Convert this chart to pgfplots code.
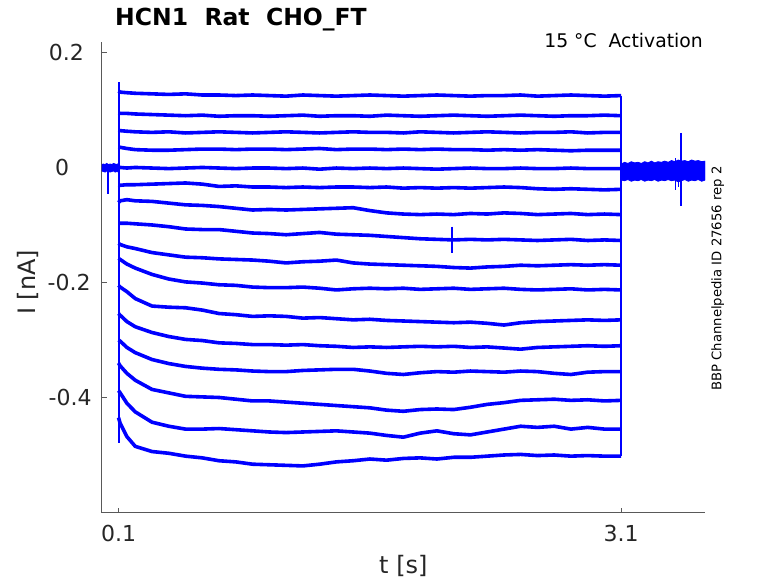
\documentclass[border=0pt]{standalone}
\usepackage{pgfplots}
\pgfplotsset{compat=1.18}
\usepackage{fontspec}
\setmainfont{DejaVu Sans}
\definecolor{trace}{RGB}{0,0,255}
\definecolor{axc}{RGB}{38,38,38}
\begin{document}
\begin{tikzpicture}
\useasboundingbox (0,0) rectangle (778pt,583pt);
\begin{axis}[
  at={(101.75pt,70.5pt)}, anchor=south west,
  scale only axis, width=603.25pt, height=470pt,
  xmin=0, xmax=3.6, ymin=-0.6, ymax=0.2173,
  axis lines*=left,
  axis line style={color=black!65, line width=0.7pt},
  tick style={color=black!65, line width=0.7pt},
  tick align=inside, major tick length=5pt,
  xtick={0.1,3.1}, xticklabels={0.1,3.1},
  ytick={-0.4,-0.2,0,0.2},
  yticklabels={-0.4,{-0.2\hspace*{1pt}},{0\hspace*{22.4pt}},{0.2\hspace*{7.7pt}}},
  ticklabel style={font=\fontsize{22}{26}\selectfont, text=axc, inner sep=0pt},
  xticklabel style={anchor=north, yshift=-12.5pt},
  yticklabel style={anchor=east, xshift=-10pt},
  xlabel={t [s]}, ylabel={I [nA]},
  label style={font=\fontsize{24}{28}\selectfont, text=axc, inner sep=0pt},
  xlabel style={at={(axis description cs:0.5,0)}, anchor=base, yshift=-61.3pt},
  ylabel style={at={(axis description cs:-0.1097,0.49)}, anchor=base},
  sweep/.style={color=trace, line width=3.6pt, line join=round, mark=none},
  jump/.style={color=trace, line width=2pt, mark=none},
]
% pre-pulse baseline band
\addplot[trace, fill=trace, line width=0.8pt] coordinates {(0,0.005) (0.01,0.006) (0.02,0.005) (0.03,0.007) (0.04,0.005) (0.05,0.006) (0.06,0.005) (0.07,0.007) (0.08,0.006) (0.09,0.005) (0.1,0.007) (0.1,-0.008) (0.09,-0.007) (0.08,-0.008) (0.07,-0.006) (0.06,-0.007) (0.05,-0.008) (0.04,-0.007) (0.03,-0.006) (0.02,-0.008) (0.01,-0.007) (0,-0.006)} -- cycle;
\addplot[trace, line width=2.2pt] coordinates {(0.038,0) (0.038,-0.046)};
% post-pulse baseline band
\addplot[trace, fill=trace, line width=0.8pt] coordinates {(3.1,0.006) (3.12,0.009) (3.14,0.007) (3.16,0.010) (3.18,0.008) (3.2,0.009) (3.22,0.007) (3.24,0.010) (3.26,0.008) (3.28,0.011) (3.3,0.008) (3.32,0.010) (3.34,0.009) (3.36,0.011) (3.38,0.009) (3.4,0.012) (3.42,0.010) (3.44,0.013) (3.46,0.011) (3.48,0.012) (3.5,0.010) (3.52,0.013) (3.54,0.011) (3.56,0.012) (3.58,0.010) (3.6,0.011) (3.6,-0.022) (3.58,-0.024) (3.56,-0.021) (3.54,-0.023) (3.52,-0.022) (3.5,-0.024) (3.48,-0.021) (3.46,-0.023) (3.44,-0.025) (3.42,-0.022) (3.4,-0.023) (3.38,-0.021) (3.36,-0.023) (3.34,-0.022) (3.32,-0.024) (3.3,-0.021) (3.28,-0.023) (3.26,-0.022) (3.24,-0.024) (3.22,-0.021) (3.2,-0.023) (3.18,-0.022) (3.16,-0.024) (3.14,-0.021) (3.12,-0.023) (3.1,-0.022)} -- cycle;
\addplot[trace, line width=1.1pt] coordinates {(3.457,0.060) (3.457,-0.067)};
\addplot[trace, line width=1.1pt] coordinates {(3.422,0.016) (3.422,-0.039)};
\addplot[trace, line width=1.1pt] coordinates {(3.44,0) (3.44,-0.034)};
% voltage-step onsets and offsets (jumps of all sweeps)
\addplot[jump] coordinates {(0.1,0.148) (0.1,-0.480)};
\addplot[jump] coordinates {(3.1,0.125) (3.1,-0.502)};
% sweeps
\addplot[sweep] coordinates {(0.1,0.133) (0.11,0.131) (0.15,0.130) (0.2,0.129) (0.3,0.128) (0.4,0.127) (0.5,0.128) (0.6,0.126) (0.7,0.126) (0.8,0.125) (0.9,0.126) (1.0,0.125) (1.1,0.124) (1.2,0.126) (1.3,0.125) (1.4,0.124) (1.5,0.125) (1.6,0.126) (1.7,0.125) (1.8,0.124) (1.9,0.125) (2.0,0.126) (2.1,0.125) (2.2,0.124) (2.3,0.125) (2.4,0.125) (2.5,0.126) (2.6,0.124) (2.7,0.125) (2.8,0.126) (2.9,0.125) (3.0,0.124) (3.1,0.125)};
\addplot[sweep] coordinates {(0.1,0.095) (0.11,0.094) (0.15,0.094) (0.2,0.093) (0.3,0.092) (0.4,0.091) (0.5,0.090) (0.6,0.091) (0.7,0.089) (0.8,0.090) (0.9,0.090) (1.0,0.089) (1.1,0.090) (1.2,0.091) (1.3,0.089) (1.4,0.090) (1.5,0.090) (1.6,0.089) (1.7,0.091) (1.8,0.090) (1.9,0.089) (2.0,0.090) (2.1,0.091) (2.2,0.090) (2.3,0.089) (2.4,0.090) (2.5,0.091) (2.6,0.090) (2.7,0.089) (2.8,0.090) (2.9,0.090) (3.0,0.091) (3.1,0.090)};
\addplot[sweep] coordinates {(0.1,0.065) (0.11,0.064) (0.15,0.063) (0.2,0.062) (0.3,0.061) (0.4,0.062) (0.5,0.060) (0.6,0.061) (0.7,0.062) (0.8,0.061) (0.9,0.060) (1.0,0.061) (1.1,0.062) (1.2,0.061) (1.3,0.060) (1.4,0.061) (1.5,0.062) (1.6,0.061) (1.7,0.061) (1.8,0.060) (1.9,0.062) (2.0,0.061) (2.1,0.060) (2.2,0.061) (2.3,0.062) (2.4,0.061) (2.5,0.060) (2.6,0.061) (2.7,0.061) (2.8,0.062) (2.9,0.060) (3.0,0.061) (3.1,0.061)};
\addplot[sweep] coordinates {(0.1,0.036) (0.11,0.035) (0.15,0.033) (0.2,0.031) (0.3,0.030) (0.4,0.030) (0.5,0.031) (0.6,0.032) (0.7,0.032) (0.8,0.031) (0.9,0.032) (1.0,0.032) (1.1,0.031) (1.2,0.032) (1.3,0.033) (1.4,0.031) (1.5,0.032) (1.6,0.032) (1.7,0.031) (1.8,0.032) (1.9,0.031) (2.0,0.032) (2.1,0.031) (2.2,0.031) (2.3,0.030) (2.4,0.031) (2.5,0.030) (2.6,0.031) (2.7,0.030) (2.8,0.029) (2.9,0.030) (3.0,0.030) (3.1,0.030)};
\addplot[sweep] coordinates {(0.1,0.000) (0.11,0.000) (0.15,-0.001) (0.2,0.000) (0.3,-0.001) (0.4,-0.002) (0.5,-0.001) (0.6,0.000) (0.7,-0.001) (0.8,-0.002) (0.9,-0.001) (1.0,-0.001) (1.1,-0.002) (1.2,-0.001) (1.3,-0.003) (1.4,-0.001) (1.5,-0.002) (1.6,-0.001) (1.7,-0.002) (1.8,-0.001) (1.9,-0.002) (2.0,-0.003) (2.1,-0.002) (2.2,-0.001) (2.3,-0.002) (2.4,-0.002) (2.5,-0.001) (2.6,-0.002) (2.7,-0.002) (2.8,-0.001) (2.9,-0.002) (3.0,-0.002) (3.1,-0.002)};
\addplot[sweep] coordinates {(0.1,-0.030) (0.11,-0.031) (0.15,-0.030) (0.2,-0.030) (0.3,-0.029) (0.4,-0.028) (0.5,-0.027) (0.6,-0.029) (0.7,-0.033) (0.8,-0.032) (0.9,-0.034) (1.0,-0.034) (1.1,-0.035) (1.2,-0.034) (1.3,-0.035) (1.4,-0.034) (1.5,-0.034) (1.6,-0.035) (1.7,-0.034) (1.8,-0.036) (1.9,-0.035) (2.0,-0.036) (2.1,-0.035) (2.2,-0.036) (2.3,-0.035) (2.4,-0.034) (2.5,-0.035) (2.6,-0.037) (2.7,-0.038) (2.8,-0.037) (2.9,-0.038) (3.0,-0.039) (3.1,-0.038)};
\addplot[sweep] coordinates {(0.1,-0.061) (0.11,-0.058) (0.15,-0.056) (0.2,-0.058) (0.3,-0.059) (0.4,-0.062) (0.5,-0.065) (0.6,-0.066) (0.7,-0.068) (0.8,-0.071) (0.9,-0.074) (1.0,-0.073) (1.1,-0.074) (1.2,-0.073) (1.3,-0.072) (1.4,-0.071) (1.5,-0.070) (1.6,-0.075) (1.7,-0.079) (1.8,-0.081) (1.9,-0.082) (2.0,-0.081) (2.1,-0.082) (2.2,-0.080) (2.3,-0.081) (2.4,-0.079) (2.5,-0.080) (2.6,-0.082) (2.7,-0.081) (2.8,-0.080) (2.9,-0.082) (3.0,-0.081) (3.1,-0.082)};
\addplot[sweep] coordinates {(0.1,-0.097) (0.11,-0.097) (0.15,-0.097) (0.2,-0.098) (0.3,-0.100) (0.4,-0.103) (0.5,-0.107) (0.6,-0.108) (0.7,-0.108) (0.8,-0.111) (0.9,-0.114) (1.0,-0.115) (1.1,-0.117) (1.2,-0.115) (1.3,-0.113) (1.4,-0.116) (1.5,-0.117) (1.6,-0.118) (1.7,-0.120) (1.8,-0.122) (1.9,-0.124) (2.0,-0.125) (2.1,-0.126) (2.2,-0.125) (2.3,-0.126) (2.4,-0.125) (2.5,-0.126) (2.6,-0.127) (2.7,-0.126) (2.8,-0.125) (2.9,-0.127) (3.0,-0.126) (3.1,-0.127)};
\addplot[trace, line width=1.6pt] coordinates {(2.091,-0.103) (2.091,-0.148)};
\addplot[sweep] coordinates {(0.1,-0.132) (0.11,-0.134) (0.15,-0.138) (0.2,-0.141) (0.3,-0.148) (0.4,-0.152) (0.5,-0.156) (0.6,-0.157) (0.7,-0.159) (0.8,-0.160) (0.9,-0.161) (1.0,-0.163) (1.1,-0.166) (1.2,-0.164) (1.3,-0.163) (1.4,-0.161) (1.5,-0.166) (1.6,-0.168) (1.7,-0.169) (1.8,-0.170) (1.9,-0.171) (2.0,-0.172) (2.1,-0.174) (2.2,-0.175) (2.3,-0.173) (2.4,-0.172) (2.5,-0.170) (2.6,-0.171) (2.7,-0.170) (2.8,-0.169) (2.9,-0.170) (3.0,-0.169) (3.1,-0.170)};
\addplot[sweep] coordinates {(0.1,-0.158) (0.11,-0.160) (0.15,-0.168) (0.2,-0.175) (0.3,-0.186) (0.4,-0.194) (0.5,-0.199) (0.6,-0.201) (0.7,-0.204) (0.8,-0.205) (0.9,-0.208) (1.0,-0.209) (1.1,-0.209) (1.2,-0.208) (1.3,-0.210) (1.4,-0.213) (1.5,-0.211) (1.6,-0.210) (1.7,-0.211) (1.8,-0.210) (1.9,-0.212) (2.0,-0.211) (2.1,-0.210) (2.2,-0.212) (2.3,-0.211) (2.4,-0.210) (2.5,-0.212) (2.6,-0.213) (2.7,-0.212) (2.8,-0.211) (2.9,-0.213) (3.0,-0.212) (3.1,-0.213)};
\addplot[sweep] coordinates {(0.1,-0.205) (0.11,-0.208) (0.15,-0.216) (0.2,-0.228) (0.3,-0.241) (0.4,-0.243) (0.5,-0.244) (0.6,-0.248) (0.7,-0.254) (0.8,-0.256) (0.9,-0.259) (1.0,-0.258) (1.1,-0.259) (1.2,-0.262) (1.3,-0.261) (1.4,-0.263) (1.5,-0.265) (1.6,-0.264) (1.7,-0.266) (1.8,-0.267) (1.9,-0.268) (2.0,-0.269) (2.1,-0.270) (2.2,-0.269) (2.3,-0.271) (2.4,-0.274) (2.5,-0.270) (2.6,-0.268) (2.7,-0.267) (2.8,-0.266) (2.9,-0.265) (3.0,-0.266) (3.1,-0.265)};
\addplot[sweep] coordinates {(0.1,-0.254) (0.11,-0.257) (0.15,-0.268) (0.2,-0.277) (0.3,-0.287) (0.4,-0.294) (0.5,-0.299) (0.6,-0.301) (0.7,-0.305) (0.8,-0.306) (0.9,-0.308) (1.0,-0.308) (1.1,-0.309) (1.2,-0.308) (1.3,-0.310) (1.4,-0.311) (1.5,-0.313) (1.6,-0.312) (1.7,-0.313) (1.8,-0.312) (1.9,-0.311) (2.0,-0.312) (2.1,-0.311) (2.2,-0.313) (2.3,-0.312) (2.4,-0.314) (2.5,-0.316) (2.6,-0.313) (2.7,-0.312) (2.8,-0.311) (2.9,-0.310) (3.0,-0.311) (3.1,-0.310)};
\addplot[sweep] coordinates {(0.1,-0.300) (0.11,-0.302) (0.15,-0.313) (0.2,-0.322) (0.3,-0.334) (0.4,-0.341) (0.5,-0.346) (0.6,-0.349) (0.7,-0.351) (0.8,-0.352) (0.9,-0.354) (1.0,-0.355) (1.1,-0.355) (1.2,-0.353) (1.3,-0.352) (1.4,-0.351) (1.5,-0.351) (1.6,-0.354) (1.7,-0.358) (1.8,-0.360) (1.9,-0.357) (2.0,-0.355) (2.1,-0.356) (2.2,-0.354) (2.3,-0.355) (2.4,-0.356) (2.5,-0.354) (2.6,-0.355) (2.7,-0.358) (2.8,-0.360) (2.9,-0.356) (3.0,-0.355) (3.1,-0.355)};
\addplot[sweep] coordinates {(0.1,-0.340) (0.11,-0.345) (0.15,-0.358) (0.2,-0.370) (0.3,-0.386) (0.4,-0.392) (0.5,-0.398) (0.6,-0.399) (0.7,-0.400) (0.8,-0.403) (0.9,-0.406) (1.0,-0.406) (1.1,-0.408) (1.2,-0.410) (1.3,-0.412) (1.4,-0.414) (1.5,-0.416) (1.6,-0.418) (1.7,-0.422) (1.8,-0.424) (1.9,-0.421) (2.0,-0.420) (2.1,-0.421) (2.2,-0.417) (2.3,-0.412) (2.4,-0.409) (2.5,-0.405) (2.6,-0.404) (2.7,-0.403) (2.8,-0.405) (2.9,-0.404) (3.0,-0.406) (3.1,-0.405)};
\addplot[sweep] coordinates {(0.1,-0.388) (0.11,-0.392) (0.15,-0.410) (0.2,-0.425) (0.3,-0.443) (0.4,-0.450) (0.5,-0.455) (0.6,-0.455) (0.7,-0.454) (0.8,-0.456) (0.9,-0.458) (1.0,-0.460) (1.1,-0.461) (1.2,-0.460) (1.3,-0.459) (1.4,-0.458) (1.5,-0.460) (1.6,-0.462) (1.7,-0.466) (1.8,-0.469) (1.9,-0.462) (2.0,-0.458) (2.1,-0.463) (2.2,-0.465) (2.3,-0.460) (2.4,-0.455) (2.5,-0.450) (2.6,-0.452) (2.7,-0.450) (2.8,-0.455) (2.9,-0.452) (3.0,-0.455) (3.1,-0.455)};
\addplot[sweep] coordinates {(0.1,-0.435) (0.11,-0.445) (0.15,-0.468) (0.2,-0.485) (0.3,-0.494) (0.4,-0.497) (0.5,-0.502) (0.6,-0.505) (0.7,-0.510) (0.8,-0.512) (0.9,-0.516) (1.0,-0.517) (1.1,-0.518) (1.2,-0.519) (1.3,-0.516) (1.4,-0.512) (1.5,-0.510) (1.6,-0.507) (1.7,-0.509) (1.8,-0.506) (1.9,-0.505) (2.0,-0.507) (2.1,-0.504) (2.2,-0.504) (2.3,-0.502) (2.4,-0.500) (2.5,-0.499) (2.6,-0.501) (2.7,-0.500) (2.8,-0.502) (2.9,-0.501) (3.0,-0.502) (3.1,-0.502)};
\end{axis}
\node[anchor=base west, inner sep=0pt, font=\fontsize{23.5}{28}\selectfont\bfseries] at (115pt,557pt) {HCN1\ \ Rat\ \ CHO\_FT};
\node[anchor=base east, inner sep=0pt, font=\fontsize{18.8}{22}\selectfont] at (703pt,535.4pt) {15 °C\ \ Activation};
\node[anchor=base, rotate=90, inner sep=0pt, font=\fontsize{13.2}{16}\selectfont] at (721.3pt,304.5pt) {BBP Channelpedia ID 27656 rep 2};
\end{tikzpicture}
\end{document}
